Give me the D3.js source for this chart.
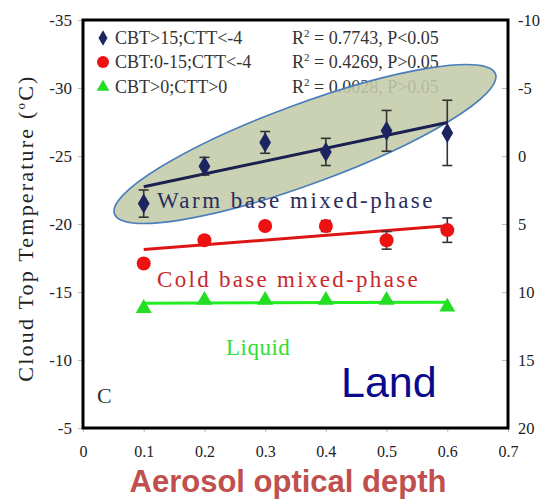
<!DOCTYPE html>
<html><head><meta charset="utf-8">
<script src="https://cdn.jsdelivr.net/npm/d3@7"></script>
<style>body{margin:0;background:#fff}svg{display:block}</style>
</head><body>
<svg id="c" width="542" height="501"></svg>
<script>
const aod = [0.1, 0.2, 0.3, 0.4, 0.5, 0.6];
const warmCTT = [-21.5, -24.25, -26.0, -25.3, -26.85, -26.7];
const warmErr = [1.0, 0.65, 0.8, 1.0, 1.5, 2.4];
const coldCTT = [-17.1, -18.8, -19.85, -19.85, -18.8, -19.55];
const coldErr = [0.3, 0.3, 0.3, 0.4, 0.65, 0.9];
const liqCTT = [-13.8, -14.4, -14.4, -14.4, -14.4, -13.9];
const xTicks = [0, 0.1, 0.2, 0.3, 0.4, 0.5, 0.6, 0.7];
const yTicks = [-35, -30, -25, -20, -15, -10, -5];
const y2Ticks = [-10, -5, 0, 5, 10, 15, 20];
const legendLabels = ["CBT>15;CTT<-4", "CBT:0-15;CTT<-4", "CBT>0;CTT>0"];
const r2Labels = ["0.7743, P<0.05", "0.4269, P>0.05", "0.0028, P>0.05"];

const svg = d3.select("#c");
const L = 83, R = 508, T = 20, B = 428;
const x = d3.scaleLinear().domain([0, 0.7]).range([L, R]);
const y = d3.scaleLinear().domain([-35, -5]).range([T, B]);
const y2 = d3.scaleLinear().domain([-10, 20]).range([T, B]);
const serif = "'Liberation Serif','Times New Roman',serif";
const hy = d => String(d);

// axes
const gx = svg.append("g").attr("transform", `translate(0,${B})`)
  .call(d3.axisBottom(x).tickValues(xTicks).tickSize(4).tickPadding(14).tickFormat(d => d === 0 ? "0" : d3.format(".1f")(d)));
const gy = svg.append("g").attr("transform", `translate(${L},0)`)
  .call(d3.axisLeft(y).tickValues(yTicks).tickSize(5).tickPadding(6).tickFormat(hy));
const gy2 = svg.append("g").attr("transform", `translate(${R},0)`)
  .call(d3.axisRight(y2).tickValues(y2Ticks).tickSize(0).tickPadding(10).tickFormat(hy));
[gx, gy, gy2].forEach(g => {
  g.select(".domain").remove();
  g.selectAll(".tick line").attr("stroke", "#bbb");
  g.selectAll(".tick text").attr("font-family", serif).attr("font-size", 16).attr("fill", "#222");
});
gy.selectAll(".tick text").attr("font-size", 17);
gy2.selectAll(".tick text").attr("font-size", 16.5);
gy2.selectAll(".tick").append("line").attr("x1", -6).attr("x2", -1).attr("stroke", "#bbb");

// legend
const legY = [38, 62, 87];
const legColors = ["#1c2461", "#ee1111", "#22dd22"];
const lg = svg.append("g");
lg.append("path").attr("d", d3.symbol(d3.symbolDiamond, 70)()).attr("transform", `translate(103,${legY[0]})`).attr("fill", legColors[0]);
lg.append("circle").attr("cx", 103).attr("cy", legY[1]).attr("r", 6).attr("fill", legColors[1]);
lg.append("path").attr("d", d3.symbol(d3.symbolTriangle, 70)()).attr("transform", `translate(103,${legY[2]})`).attr("fill", legColors[2]);
legendLabels.forEach((t, i) => {
  lg.append("text").attr("x", 115).attr("y", legY[i] + 6).attr("font-family", serif).attr("font-size", 18).attr("fill", "#333").text(t);
  const tx = lg.append("text").attr("x", 292).attr("y", legY[i] + 6).attr("font-family", serif).attr("font-size", 18).attr("fill", "#333");
  tx.append("tspan").text("R");
  tx.append("tspan").attr("dy", -7).attr("font-size", 11).text("2");
  tx.append("tspan").attr("dy", 7).text(" = " + r2Labels[i]);
});

// ellipse
svg.append("ellipse").attr("cx", 0).attr("cy", 0).attr("rx", 203).attr("ry", 40)
  .attr("transform", "translate(305,144) rotate(-20.2)")
  .attr("fill", "#c4ccaa").attr("fill-opacity", 0.88).attr("stroke", "#4a7ebb").attr("stroke-width", 1.6);

// regression lines
function fit(ys) {
  const mx = d3.mean(aod), my = d3.mean(ys);
  const s = d3.sum(aod, (a, i) => (a - mx) * (ys[i] - my)) / d3.sum(aod, a => (a - mx) ** 2);
  return [[aod[0], my + s * (aod[0] - mx)], [aod[5], my + s * (aod[5] - mx)]];
}
const line = d3.line().x(d => x(d[0])).y(d => y(d[1]));
svg.append("path").attr("d", line(fit(warmCTT))).attr("stroke", "#1a2050").attr("stroke-width", 3).attr("fill", "none");
svg.append("path").attr("d", line(fit(coldCTT))).attr("stroke", "#dd1515").attr("stroke-width", 3).attr("fill", "none");
svg.append("path").attr("d", line(fit(liqCTT))).attr("stroke", "#22ee22").attr("stroke-width", 3).attr("fill", "none");

// error bars
function errBars(vals, errs) {
  const g = svg.append("g").attr("stroke", "#333").attr("stroke-width", 1.6);
  aod.forEach((a, i) => {
    const cx = x(a), t = y(vals[i] - errs[i]), b = y(vals[i] + errs[i]);
    g.append("line").attr("x1", cx).attr("x2", cx).attr("y1", t).attr("y2", b);
    g.append("line").attr("x1", cx - 5).attr("x2", cx + 5).attr("y1", t).attr("y2", t);
    g.append("line").attr("x1", cx - 5).attr("x2", cx + 5).attr("y1", b).attr("y2", b);
  });
}
errBars(warmCTT, warmErr);
errBars(coldCTT, coldErr);

// markers
svg.append("g").selectAll("path").data(aod).join("path")
  .attr("d", d3.symbol(d3.symbolDiamond, 120)())
  .attr("transform", (d, i) => `translate(${x(d)},${y(warmCTT[i])})`).attr("fill", legColors[0]);
svg.append("g").selectAll("circle").data(aod).join("circle")
  .attr("cx", d => x(d)).attr("cy", (d, i) => y(coldCTT[i])).attr("r", 7).attr("fill", legColors[1]);
svg.append("g").selectAll("path").data(aod).join("path")
  .attr("d", d3.symbol(d3.symbolTriangle, 110)())
  .attr("transform", (d, i) => `translate(${x(d)},${y(liqCTT[i])})`).attr("fill", legColors[2]);

// frame
svg.append("rect").attr("x", L).attr("y", T).attr("width", R - L).attr("height", B - T)
  .attr("fill", "none").attr("stroke", "#000").attr("stroke-width", 3);

// annotations
svg.append("text").attr("x", 157).attr("y", 208).attr("font-family", serif).attr("font-size", 23).attr("letter-spacing", 2.5).attr("fill", "#2a2d5e").text("Warm base mixed-phase");
svg.append("text").attr("x", 157).attr("y", 287).attr("font-family", serif).attr("font-size", 23).attr("letter-spacing", 2.3).attr("fill", "#c8282d").text("Cold base mixed-phase");
svg.append("text").attr("x", 226).attr("y", 355).attr("font-family", serif).attr("font-size", 23).attr("letter-spacing", 0.5).attr("fill", "#33dd33").text("Liquid");
svg.append("text").attr("x", 97).attr("y", 403).attr("font-family", serif).attr("font-size", 22).attr("fill", "#333").text("C");
svg.append("text").attr("x", 341).attr("y", 397).attr("font-family", "'Liberation Sans',Arial,sans-serif").attr("font-size", 43).attr("fill", "#0a0a8c").text("Land");

// axis titles
const yt = svg.append("text").attr("transform", "translate(33,228) rotate(-90)").attr("text-anchor", "middle")
  .attr("font-family", serif).attr("font-size", 22).attr("letter-spacing", 2.2).attr("fill", "#222");
yt.append("tspan").text("Cloud Top Temperature (");
yt.append("tspan").attr("dy", -8).attr("font-size", 13).text("o");
yt.append("tspan").attr("dy", 8).text("C)");
svg.append("text").attr("x", 288).attr("y", 492).attr("text-anchor", "middle")
  .attr("font-family", "'Liberation Sans',Arial,sans-serif").attr("font-weight", "bold").attr("font-size", 31)
  .attr("fill", "#c0504d").text("Aerosol optical depth");
</script>
</body></html>
